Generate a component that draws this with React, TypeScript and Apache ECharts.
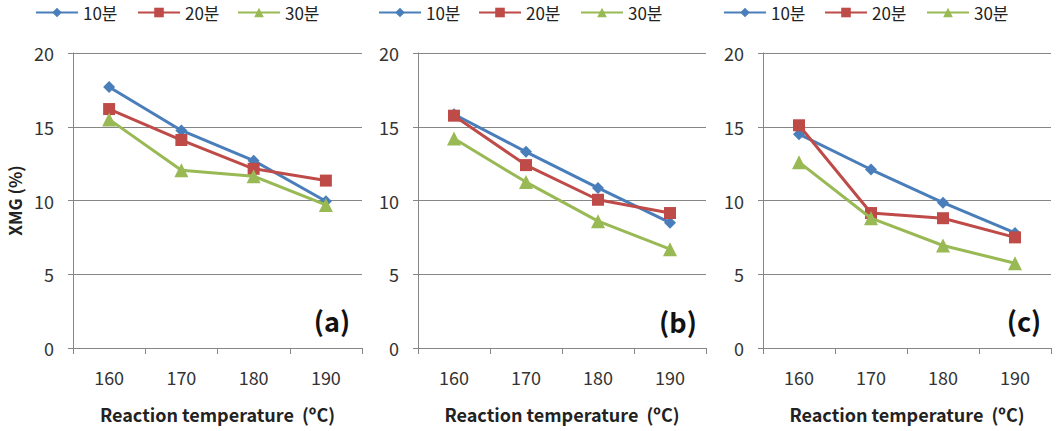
import React, { useEffect, useRef } from "react";
import * as echarts from "echarts";

const categories = ["160", "170", "180", "190"];
const seriesNames = ["10분", "20분", "30분"];
const panelLabels = ["(a)", "(b)", "(c)"];
const yTicks = [0, 20, 5];

const a10 = [17.7, 14.75, 12.7, 9.95];
const a20 = [16.2, 14.1, 12.15, 11.35];
const a30 = [15.5, 12.05, 11.65, 9.7];
const b10 = [15.85, 13.3, 10.85, 8.5];
const b20 = [15.75, 12.4, 10.05, 9.15];
const b30 = [14.2, 11.25, 8.6, 6.7];
const c10 = [14.5, 12.1, 9.85, 7.8];
const c20 = [15.1, 9.15, 8.8, 7.5];
const c30 = [12.6, 8.8, 6.95, 5.75];

const panels = [
  [a10, a20, a30],
  [b10, b20, b30],
  [c10, c20, c30],
];

const FONT = "'Noto Sans CJK KR', 'Noto Sans', sans-serif";
const colors = ["#4A7EBB", "#BE4B48", "#98B954"];
const symbols = ["diamond", "rect", "triangle"];
const symbolSizes = [12, 12, 14];
const gridLefts = [73, 418, 763];
const gridWidths = [289, 288, 288];
const legendLefts = [
  [35, 137, 237],
  [378, 478, 580],
  [723, 824, 926],
];
const labelPos = [
  [332, 320],
  [678, 321],
  [1024, 320],
];

export default function App() {
  const ref = useRef<HTMLDivElement>(null);
  useEffect(() => {
    document.body.style.margin = "0";
    if (!ref.current) return;
    const chart = echarts.init(ref.current, null, { renderer: "svg" });
    const grid = gridLefts.map((l, i) => ({
      left: l,
      top: 53,
      width: gridWidths[i],
      height: 295,
    }));
    const xAxis = gridLefts.map((_, i) => ({
      type: "category",
      gridIndex: i,
      data: categories,
      boundaryGap: true,
      axisLine: { show: true, lineStyle: { color: "#868686", width: 1 } },
      axisTick: { show: true, length: 6, interval: 0, lineStyle: { color: "#868686" } },
      axisLabel: { margin: 20, fontSize: 18, color: "#333", fontFamily: FONT },
      name: "Reaction temperature  (ºC)",
      nameLocation: "middle",
      nameGap: 57,
      nameTextStyle: { fontSize: 18, fontWeight: "bold", color: "#222", fontFamily: FONT },
    }));
    const yAxis = gridLefts.map((_, i) => ({
      type: "value",
      gridIndex: i,
      min: yTicks[0],
      max: yTicks[1],
      interval: yTicks[2],
      axisLine: { show: true, lineStyle: { color: "#868686", width: 1 } },
      axisTick: { show: true, length: 5, lineStyle: { color: "#868686" } },
      splitLine: { show: true, lineStyle: { color: "#868686", width: 1 } },
      axisLabel: { margin: 19, fontSize: 18, color: "#333", fontFamily: FONT },
      name: i === 0 ? "XMG (%)" : "",
      nameLocation: "middle",
      nameGap: 50,
      nameTextStyle: {
        fontSize: 17,
        lineHeight: 18,
        fontWeight: "bold",
        color: "#222",
        fontFamily: FONT,
      },
    }));
    const series: any[] = [];
    panels.forEach((p, pi) => {
      p.forEach((vals, si) => {
        series.push({
          type: "line",
          name: seriesNames[si],
          xAxisIndex: pi,
          yAxisIndex: pi,
          data: vals,
          symbol: symbols[si],
          symbolSize: symbolSizes[si],
          showSymbol: true,
          lineStyle: { color: colors[si], width: 3 },
          itemStyle: { color: colors[si] },
          z: 2 + si,
        });
      });
    });
    const legend: any[] = [];
    legendLefts.forEach((row) => {
      row.forEach((x, si) => {
        legend.push({
          left: x,
          top: 4,
          padding: 0,
          itemWidth: 42,
          itemHeight: 12,
          data: [seriesNames[si]],
          textStyle: { fontSize: 17, color: "#222", fontFamily: FONT },
        });
      });
    });
    const graphic = panelLabels.map((t, i) => ({
      type: "text",
      x: labelPos[i][0],
      y: labelPos[i][1],
      style: {
        text: t,
        fontSize: 27,
        fontWeight: "bold",
        fill: "#111",
        fontFamily: FONT,
        align: "center",
        verticalAlign: "middle",
      },
    }));
    chart.setOption({
      animation: false,
      grid,
      xAxis,
      yAxis,
      series,
      legend,
      graphic,
    });
    return () => chart.dispose();
  }, []);
  return <div ref={ref} style={{ width: 1056, height: 431 }} />;
}
